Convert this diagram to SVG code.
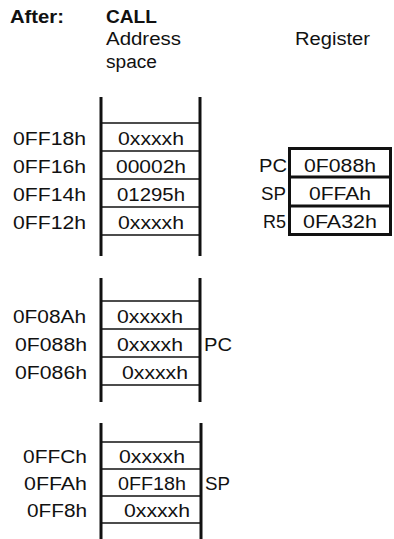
<svg xmlns="http://www.w3.org/2000/svg" width="394" height="539" viewBox="0 0 394 539">
<style>
text{font-family:"Liberation Sans",Arial,Helvetica,sans-serif;font-size:18px;fill:#111}
.b{font-weight:bold}
.addr{text-anchor:end}
.cell{text-anchor:middle}
.rl{text-anchor:end}
.rail{stroke:#111;stroke-width:3;fill:none}
.row{stroke:#111;stroke-width:1.5;fill:none}
.reg{stroke:#111;stroke-width:3;fill:none}
</style>
<rect width="394" height="539" fill="#fff"/>
<g id="header">
<text class="b" x="10" y="23" textLength="54" lengthAdjust="spacingAndGlyphs">After:</text>
<text class="b" x="106" y="23" textLength="51" lengthAdjust="spacingAndGlyphs">CALL</text>
<text x="106" y="45" textLength="75" lengthAdjust="spacingAndGlyphs">Address</text>
<text x="106" y="68" textLength="51" lengthAdjust="spacingAndGlyphs">space</text>
<text x="295" y="45" textLength="75" lengthAdjust="spacingAndGlyphs">Register</text>
</g>
<g id="stack1">
<line class="rail" x1="101" y1="97" x2="101" y2="256"/>
<line class="rail" x1="200" y1="97" x2="200" y2="256"/>
<line class="row" x1="101" y1="123" x2="200" y2="123"/>
<line class="row" x1="101" y1="151" x2="200" y2="151"/>
<line class="row" x1="101" y1="179" x2="200" y2="179"/>
<line class="row" x1="101" y1="207" x2="200" y2="207"/>
<line class="row" x1="101" y1="235" x2="200" y2="235"/>
<text class="addr" x="86" y="145" textLength="73" lengthAdjust="spacingAndGlyphs">0FF18h</text>
<text class="addr" x="86" y="173" textLength="73" lengthAdjust="spacingAndGlyphs">0FF16h</text>
<text class="addr" x="86" y="201" textLength="73" lengthAdjust="spacingAndGlyphs">0FF14h</text>
<text class="addr" x="86" y="229" textLength="73" lengthAdjust="spacingAndGlyphs">0FF12h</text>
<text class="cell" x="151" y="145" textLength="66" lengthAdjust="spacingAndGlyphs">0xxxxh</text>
<text class="cell" x="151" y="173" textLength="70" lengthAdjust="spacingAndGlyphs">00002h</text>
<text class="cell" x="151" y="201" textLength="68" lengthAdjust="spacingAndGlyphs">01295h</text>
<text class="cell" x="151" y="229" textLength="66" lengthAdjust="spacingAndGlyphs">0xxxxh</text>
</g>
<g id="registers">
<rect class="reg" x="289.5" y="148.5" width="101" height="86"/>
<line class="reg" x1="289.5" y1="177" x2="390.5" y2="177"/>
<line class="reg" x1="289.5" y1="206" x2="390.5" y2="206"/>
<text class="rl" x="287" y="172" textLength="28" lengthAdjust="spacingAndGlyphs">PC</text>
<text class="rl" x="286" y="200" textLength="25" lengthAdjust="spacingAndGlyphs">SP</text>
<text class="rl" x="286" y="228" textLength="23" lengthAdjust="spacingAndGlyphs">R5</text>
<text class="cell" x="340" y="172" textLength="72" lengthAdjust="spacingAndGlyphs">0F088h</text>
<text class="cell" x="340" y="200" textLength="62" lengthAdjust="spacingAndGlyphs">0FFAh</text>
<text class="cell" x="340" y="228" textLength="74" lengthAdjust="spacingAndGlyphs">0FA32h</text>
</g>
<g id="stack2">
<line class="rail" x1="101" y1="278" x2="101" y2="402"/>
<line class="rail" x1="200" y1="278" x2="200" y2="402"/>
<line class="row" x1="101" y1="301" x2="200" y2="301"/>
<line class="row" x1="101" y1="329" x2="200" y2="329"/>
<line class="row" x1="101" y1="357" x2="200" y2="357"/>
<line class="row" x1="101" y1="385" x2="200" y2="385"/>
<text class="addr" x="86" y="323" textLength="73" lengthAdjust="spacingAndGlyphs">0F08Ah</text>
<text class="addr" x="87" y="351" textLength="72" lengthAdjust="spacingAndGlyphs">0F088h</text>
<text class="addr" x="87" y="379" textLength="72" lengthAdjust="spacingAndGlyphs">0F086h</text>
<text class="cell" x="150" y="323" textLength="66" lengthAdjust="spacingAndGlyphs">0xxxxh</text>
<text class="cell" x="150" y="351" textLength="66" lengthAdjust="spacingAndGlyphs">0xxxxh</text>
<text class="cell" x="155" y="379" textLength="66" lengthAdjust="spacingAndGlyphs">0xxxxh</text>
<text x="204" y="351" textLength="28" lengthAdjust="spacingAndGlyphs">PC</text>
</g>
<g id="stack3">
<line class="rail" x1="101" y1="423" x2="101" y2="539"/>
<line class="rail" x1="201" y1="423" x2="201" y2="539"/>
<line class="row" x1="101" y1="442" x2="201" y2="442"/>
<line class="row" x1="101" y1="469" x2="201" y2="469"/>
<line class="row" x1="101" y1="496" x2="201" y2="496"/>
<line class="row" x1="101" y1="523" x2="201" y2="523"/>
<text class="addr" x="87" y="463" textLength="64" lengthAdjust="spacingAndGlyphs">0FFCh</text>
<text class="addr" x="87" y="490" textLength="63" lengthAdjust="spacingAndGlyphs">0FFAh</text>
<text class="addr" x="87" y="517" textLength="60" lengthAdjust="spacingAndGlyphs">0FF8h</text>
<text class="cell" x="152" y="463" textLength="66" lengthAdjust="spacingAndGlyphs">0xxxxh</text>
<text class="cell" x="152" y="490" textLength="68" lengthAdjust="spacingAndGlyphs">0FF18h</text>
<text class="cell" x="157" y="517" textLength="66" lengthAdjust="spacingAndGlyphs">0xxxxh</text>
<text x="205" y="490" textLength="25" lengthAdjust="spacingAndGlyphs">SP</text>
</g>
</svg>
